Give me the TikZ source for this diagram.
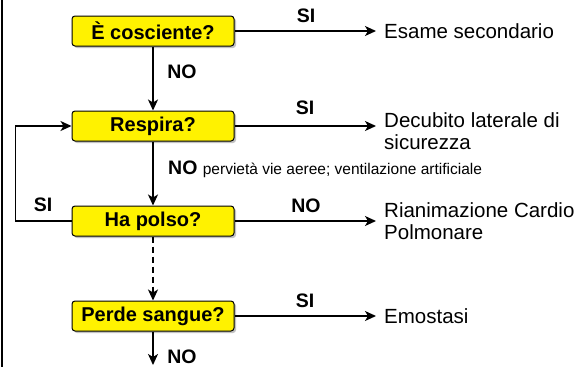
\documentclass[tikz,border=0pt]{standalone}
\usepackage{fontspec}
\setmainfont{Liberation Sans}
\usetikzlibrary{arrows.meta,shadows}
\tikzset{
  domanda/.style={draw, line width=1pt, rounded corners=3pt, fill=yellow,
    minimum width=162pt, minimum height=30pt, inner sep=0pt,
    font=\fontsize{20}{24}\selectfont\bfseries,
    drop shadow={shadow xshift=2pt, shadow yshift=-2pt, fill=black!40, opacity=.6}},
  freccia/.style={line width=1.5pt, -{Stealth[length=11pt,width=10pt,inset=3pt]}},
  etic/.style={font=\fontsize{19.5}{23}\selectfont\bfseries, inner sep=0pt},
  esito/.style={font=\fontsize{20.5}{22}\selectfont, align=left, anchor=west,
    inner ysep=0pt, inner xsep=8pt},
}
\begin{document}
\begin{tikzpicture}[x=1pt, y=-1pt]
   \useasboundingbox (0,0) rectangle (584,367);
   \draw[line width=2.5pt] (2,0) -- (2,367);
   % domande
   \node[domanda] (cosc) at (153,31) {È cosciente?};
   \node[domanda] (resp) at (153,126) {Respira?};
   \node[domanda] (polso) at (153,221) {Ha polso?};
   \node[domanda] (sangue) at (153,316) {Perde sangue?};
   % esiti
   \node[esito] (esame) at (376,31) {Esame secondario};
   \node[esito] (decub) at (376,131) {Decubito laterale di\\sicurezza};
   \node[esito] (rcp) at (376,221) {Rianimazione Cardio\\Polmonare};
   \node[esito] (emost) at (376,316) {Emostasi};
   \coordinate (fine) at (153,365);
   % frecce
   \draw[freccia] (cosc.east) -- (cosc.east -| esame.west);
   \draw[freccia] (resp.east) -- (resp.east -| decub.west);
   \draw[freccia] (polso.east) -- (polso.east -| rcp.west);
   \draw[freccia] (sangue.east) -- (sangue.east -| emost.west);
   \draw[freccia] (cosc) -- (resp);
   \draw[freccia] (resp) -- (polso);
   \draw[freccia, dash pattern=on 6pt off 4pt] (polso) -- (sangue);
   \draw[freccia] (sangue) -- (fine);
   \draw[freccia] (polso.west) -- ++(-56,0) |- (resp.west);
   % etichette
   \node[etic] (si1) at (306,16) {SI};
   \node[etic] (si2) at (305,108) {SI};
   \node[etic] (no3) at (306,206) {NO};
   \node[etic] (si4) at (305,301) {SI};
   \node[etic] (no1) at (182,72) {NO};
   \node[etic, anchor=west] (no2) at (168,169) {NO {\fontsize{15.5}{18}\mdseries\selectfont pervietà vie aeree; ventilazione artificiale}};
   \node[etic] (no4) at (182,357) {NO};
   \node[etic] (si5) at (43,205) {SI};
\end{tikzpicture}
\end{document}
